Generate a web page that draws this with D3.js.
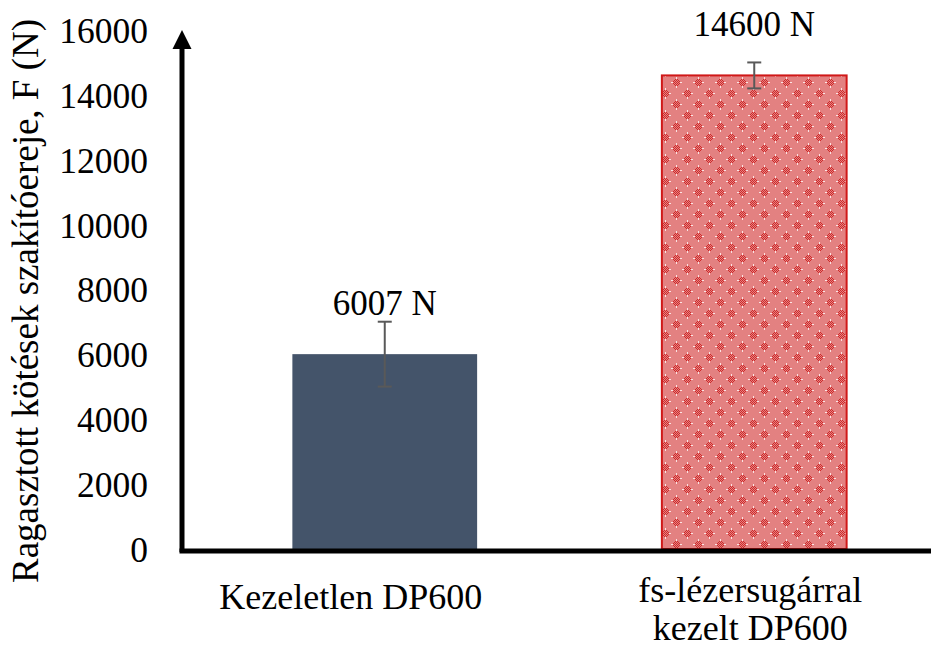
<!DOCTYPE html>
<html lang="hu">
<head>
    <meta charset="UTF-8">
    <title>Szakítóerő</title>
    <script src="https://d3js.org/d3.v7.min.js"></script>
    <style>
        body {margin: 0; background: white;}
    </style>
</head>
<body>
<script>
    const width = 931;
    const height = 650;
    const serif = "'Liberation Serif', 'Times New Roman', Times, serif";

    const categories = ["Kezeletlen DP600", "fs-lézersugárral\nkezelt DP600"];
    const values = [6007, 14600];
    const errors = [1000, 400];
    const valueLabels = ["6007 N", "14600 N"];
    const yTicks = [0, 2000, 4000, 6000, 8000, 10000, 12000, 14000, 16000];

    const axisX = 182;

    const svg = d3.select("body").append("svg")
            .attr("width", width).attr("height", height);

    // dotted red fill for the treated bar
    const defs = svg.append("defs");
    const pat = defs.append("pattern")
            .attr("id", "redDots")
            .attr("patternUnits", "userSpaceOnUse")
            .attr("width", 22).attr("height", 22);
    pat.append("rect").attr("width", 22).attr("height", 22).attr("fill", "#e38181");
    [[0,0],[11,11]].forEach(([ox, oy]) => {
        for (let i = -3; i <= 3; i++) {
            for (let j = -3; j <= 3; j++) {
                if ((i + j) % 2 !== 0 || Math.abs(i) + Math.abs(j) > 4) continue;
                pat.append("rect")
                        .attr("x", (ox + 5 + i + 22) % 22).attr("y", (oy + 5 + j + 22) % 22)
                        .attr("width", 1).attr("height", 1).attr("fill", "#cf2a2a");
            }
        }
        pat.append("rect").attr("x", ox + 5).attr("y", oy).attr("width", 1).attr("height", 2).attr("fill", "#fbe3e3");
        pat.append("rect").attr("x", ox).attr("y", oy + 5).attr("width", 2).attr("height", 1).attr("fill", "#fbe3e3");
        pat.append("rect").attr("x", ox + 5).attr("y", oy + 9).attr("width", 1).attr("height", 2).attr("fill", "#fbe3e3");
        pat.append("rect").attr("x", ox + 9).attr("y", oy + 5).attr("width", 2).attr("height", 1).attr("fill", "#fbe3e3");
    });

    const x = d3.scaleBand()
            .domain(categories)
            .range([200, 939])
            .padding(0);
    const barW = x.bandwidth() * 0.5;
    const cx = d => x(d) + x.bandwidth() / 2;

    const y = d3.scaleLinear()
            .domain([0, 16000])
            .range([549, 30]);

    // bars
    svg.selectAll("rect.bar")
            .data(categories)
            .enter()
            .append("rect")
            .attr("class", "bar")
            .attr("x", d => cx(d) - barW / 2)
            .attr("width", barW)
            .attr("y", (d, i) => y(values[i]))
            .attr("height", (d, i) => y(0) - y(values[i]))
            .style("fill", (d, i) => i === 0 ? "#44546a" : "url(#redDots)")
            .style("stroke", (d, i) => i === 0 ? "none" : "#d01818")
            .style("stroke-width", 2);

    // error bars
    const err = svg.selectAll("g.err")
            .data(categories)
            .enter()
            .append("g")
            .attr("class", "err")
            .style("stroke", "#595959")
            .style("stroke-width", 2);
    err.append("line")
            .attr("x1", d => cx(d)).attr("x2", d => cx(d))
            .attr("y1", (d, i) => y(values[i] + errors[i]))
            .attr("y2", (d, i) => y(values[i] - errors[i]));
    err.append("line")
            .attr("x1", d => cx(d) - 7).attr("x2", d => cx(d) + 7)
            .attr("y1", (d, i) => y(values[i] + errors[i]))
            .attr("y2", (d, i) => y(values[i] + errors[i]));
    err.append("line")
            .attr("x1", d => cx(d) - 7).attr("x2", d => cx(d) + 7)
            .attr("y1", (d, i) => y(values[i] - errors[i]))
            .attr("y2", (d, i) => y(values[i] - errors[i]));

    // value labels
    svg.selectAll("text.val")
            .data(categories)
            .enter()
            .append("text")
            .attr("class", "val")
            .attr("x", d => cx(d))
            .attr("y", (d, i) => y(values[i]) - 39)
            .attr("text-anchor", "middle")
            .style("font-family", serif)
            .style("font-size", "35px")
            .style("fill", "#000")
            .text((d, i) => valueLabels[i]);

    // y axis
    const yAxis = svg.append("g")
            .attr("transform", `translate(${axisX},0)`)
            .call(d3.axisLeft(y).tickValues(yTicks).tickSize(0).tickPadding(34).tickFormat(d3.format("d")));
    yAxis.select(".domain").remove();
    yAxis.selectAll("text")
            .style("font-family", serif)
            .style("font-size", "35.5px")
            .style("fill", "#000")
            .attr("dy", "0.35em");

    // x axis category labels
    categories.forEach((c, i) => {
        const lines = c.split("\n");
        const lx = lines.length === 1 ? cx(c) - 34 : cx(c) - 4;
        const t = svg.append("text")
                .attr("x", lx)
                .attr("y", lines.length === 1 ? 609 : 602)
                .attr("text-anchor", "middle")
                .style("font-family", serif)
                .style("font-size", "36px")
                .style("fill", "#000");
        lines.forEach((l, k) => {
            t.append("tspan")
                    .attr("x", lx).attr("dy", k === 0 ? 0 : 38)
                    .style("font-family", serif)
                    .text(l);
        });
    });

    // axis lines (drawn last, thick black)
    svg.append("line")
            .attr("x1", axisX).attr("x2", axisX)
            .attr("y1", y(0) + 3).attr("y2", 48)
            .style("stroke", "#000").style("stroke-width", 5);
    svg.append("path")
            .attr("d", `M${axisX - 9.5},49 L${axisX},30 L${axisX + 9.5},49 Z`)
            .style("fill", "#000");
    svg.append("line")
            .attr("x1", axisX - 2.5).attr("x2", width)
            .attr("y1", y(0) + 2).attr("y2", y(0) + 2)
            .style("stroke", "#000").style("stroke-width", 5);

    // y title
    svg.append("text")
            .attr("transform", `translate(38,301) rotate(-90)`)
            .attr("text-anchor", "middle")
            .style("font-family", serif)
            .style("font-size", "37px")
            .style("fill", "#000")
            .text("Ragasztott kötések szakítóereje, F (N)");
</script>
</body>
</html>
